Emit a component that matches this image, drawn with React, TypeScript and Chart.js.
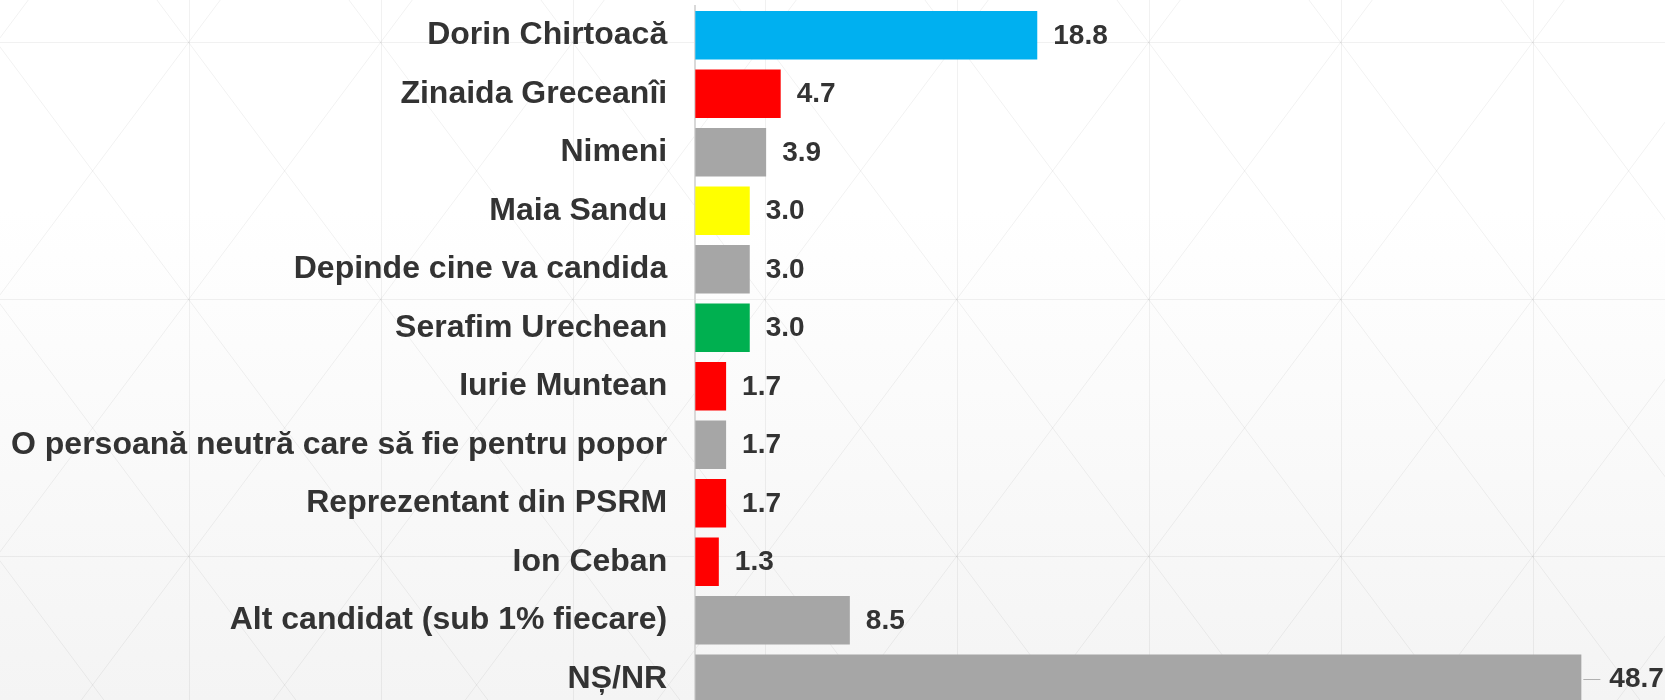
import React, { useEffect, useRef } from "react";
import { Chart, registerables } from "chart.js";

Chart.register(...registerables);

const categories = [
  "Dorin Chirtoacă",
  "Zinaida Greceanîi",
  "Nimeni",
  "Maia Sandu",
  "Depinde cine va candida",
  "Serafim Urechean",
  "Iurie Muntean",
  "O persoană neutră care să fie pentru popor",
  "Reprezentant din PSRM",
  "Ion Ceban",
  "Alt candidat (sub 1% fiecare)",
  "NȘ/NR",
];

const values = [18.8, 4.7, 3.9, 3.0, 3.0, 3.0, 1.7, 1.7, 1.7, 1.3, 8.5, 48.7];

const barColors = [
  "#00b0f0",
  "#ff0000",
  "#a6a6a6",
  "#ffff00",
  "#a6a6a6",
  "#00b050",
  "#ff0000",
  "#a6a6a6",
  "#ff0000",
  "#ff0000",
  "#a6a6a6",
  "#a6a6a6",
];

const FONT = "'Liberation Sans', Arial, Helvetica, sans-serif";
const TEXT = "#333333";

const backgroundPlugin = {
  id: "bgPattern",
  beforeDraw(chart: any) {
    const { ctx, width, height } = chart;
    ctx.save();
    const g = ctx.createLinearGradient(0, 0, 0, 700);
    g.addColorStop(0, "#ffffff");
    g.addColorStop(0.3, "#ffffff");
    g.addColorStop(1, "#f4f4f4");
    ctx.fillStyle = g;
    ctx.fillRect(0, 0, width, height);
    const cw = 192;
    const ch = 257;
    const ox = -3.4;
    const oy = 42.4 - 257;
    ctx.strokeStyle = "rgba(0,0,0,0.055)";
    ctx.lineWidth = 1;
    ctx.beginPath();
    for (let x = ox; x <= width + cw; x += cw) {
      ctx.moveTo(Math.round(x) + 0.5, 0);
      ctx.lineTo(Math.round(x) + 0.5, height);
    }
    for (let y = oy; y <= height + ch; y += ch) {
      ctx.moveTo(0, Math.round(y) + 0.5);
      ctx.lineTo(width, Math.round(y) + 0.5);
    }
    for (let x = ox; x <= width + cw; x += cw) {
      for (let y = oy; y <= height + ch; y += ch) {
        ctx.moveTo(x, y);
        ctx.lineTo(x + cw, y + ch);
        ctx.moveTo(x + cw, y);
        ctx.lineTo(x, y + ch);
      }
    }
    ctx.stroke();
    ctx.restore();
  },
};

const valueLabelPlugin = {
  id: "valueLabels",
  afterDatasetsDraw(chart: any) {
    const { ctx } = chart;
    const meta = chart.getDatasetMeta(0);
    const data = chart.data.datasets[0].data as number[];
    const maxVal = Math.max(...data);
    ctx.save();
    ctx.font = `bold 28px ${FONT}`;
    ctx.fillStyle = TEXT;
    ctx.textBaseline = "middle";
    ctx.textAlign = "left";
    meta.data.forEach((bar: any, i: number) => {
      const v = data[i];
      const txt = v.toFixed(1);
      if (v === maxVal) {
        ctx.strokeStyle = "#b0b0b0";
        ctx.lineWidth = 1;
        ctx.beginPath();
        ctx.moveTo(bar.x + 2, Math.round(bar.y) + 0.5);
        ctx.lineTo(bar.x + 19, Math.round(bar.y) + 0.5);
        ctx.stroke();
        ctx.fillText(txt, bar.x + 28, bar.y + 1);
      } else {
        ctx.fillText(txt, bar.x + 16, bar.y + 1);
      }
    });
    ctx.restore();
  },
};

export default function App() {
  const canvasRef = useRef<HTMLCanvasElement | null>(null);

  useEffect(() => {
    document.body.style.margin = "0";
    document.body.style.overflow = "hidden";
    const canvas = canvasRef.current;
    if (!canvas) return;
    const chart = new Chart(canvas, {
      type: "bar",
      data: {
        labels: categories,
        datasets: [
          {
            data: values,
            backgroundColor: barColors,
            borderWidth: 0,
            barPercentage: 0.825,
            categoryPercentage: 1,
          },
        ],
      },
      options: {
        indexAxis: "y",
        responsive: false,
        animation: false,
        devicePixelRatio: 1,
        layout: { padding: { left: 11, right: 60, top: 6, bottom: 2 } },
        plugins: {
          legend: { display: false },
          tooltip: { enabled: false },
        },
        scales: {
          x: {
            type: "linear",
            min: 0,
            max: 50,
            display: false,
          },
          y: {
            type: "category",
            grid: { display: false, drawTicks: true, tickLength: 28 },
            border: { display: true, color: "#d9d9d9", width: 2 },
            ticks: {
              autoSkip: false,
              padding: 0,
              color: TEXT,
              font: { family: FONT, size: 32, weight: "bold", lineHeight: 0.1 },
            },
          },
        },
      },
      plugins: [backgroundPlugin, valueLabelPlugin],
    } as any);
    return () => chart.destroy();
  }, []);

  return (
    <div
      style={{
        position: "fixed",
        left: 0,
        top: 0,
        width: 1665,
        height: 700,
        overflow: "hidden",
      }}
    >
      <canvas ref={canvasRef} width={1665} height={710} style={{ display: "block" }} />
    </div>
  );
}
